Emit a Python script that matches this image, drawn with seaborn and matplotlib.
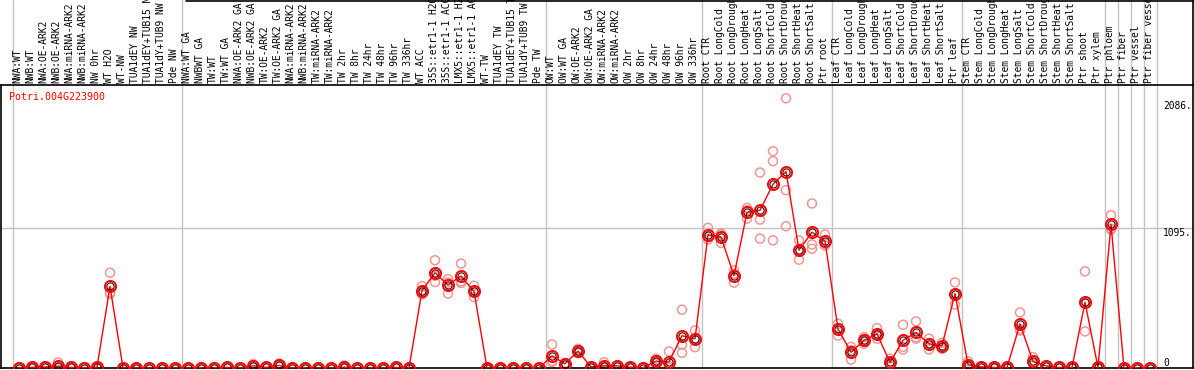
import numpy as np
import pandas as pd
import matplotlib
matplotlib.use("Agg")
import matplotlib.pyplot as plt
import seaborn as sns
from matplotlib.transforms import blended_transform_factory
from matplotlib.lines import Line2D

gene_id = "Potri.004G223900"

grp_nw = ["NWA:WT", "NWB:WT", "NWA:OE-ARK2", "NWB:OE-ARK2", "NWA:miRNA-ARK2",
          "NWB:miRNA-ARK2", "NW 0hr", "WT H2O", "WT-NW", "TUA1dEY NW",
          "TUA1dEY+TUB15 NW", "TUA1dY+TUB9 NW", "Pde NW"]
grp_tw = ["NWA:WT GA", "NWBWT GA", "TW:WT", "TW:WT GA", "NWA:OE-ARK2 GA",
          "NWB:OE-ARK2 GA", "TW:OE-ARK2", "TW:OE-ARK2 GA", "NWA:miRNA-ARK2",
          "NWB:miRNA-ARK2", "TW:miRNA-ARK2", "TW:miRNA-ARK2", "TW 2hr", "TW 8hr",
          "TW 24hr", "TW 48hr", "TW 96hr", "TW 336hr", "WT ACC", "35S::etr1-1 H2O",
          "35S::etr1-1 ACC", "LMX5::etr1-1 H2O", "LMX5::etr1-1 ACC", "WT-TW",
          "TUA1dEY TW", "TUA1dEY+TUB15 TW", "TUA1dY+TUB9 TW", "Pde TW"]
grp_ow = ["OW:WT", "OW:WT GA", "OW:OE-ARK2", "OW:OE-ARK2 GA", "OW:miRNA-ARK2",
          "OW:miRNA-ARK2", "OW 2hr", "OW 8hr", "OW 24hr", "OW 48hr", "OW 96hr", "OW 336hr"]
grp_root = ["Root CTR", "Root LongCold", "Root LongDrought", "Root LongHeat",
            "Root LongSalt", "Root ShortCold", "Root ShortDrought", "Root ShortHeat",
            "Root ShortSalt", "Ptr root"]
grp_leaf = ["Leaf CTR", "Leaf LongCold", "Leaf LongDrought", "Leaf LongHeat",
            "Leaf LongSalt", "Leaf ShortCold", "Leaf ShortDrought", "Leaf ShortHeat",
            "Leaf ShortSalt", "Ptr leaf"]
grp_stem = ["Stem CTR", "Stem LongCold", "Stem LongDrought", "Stem LongHeat",
            "Stem LongSalt", "Stem ShortCold", "Stem ShortDrought", "Stem ShortHeat",
            "Stem ShortSalt", "Ptr shoot", "Ptr xylem"]
grp_phloem = ["Ptr phloem"]
grp_fiber = ["Ptr fiber"]
grp_vessel = ["Ptr vessel"]
grp_fv = ["Ptr fiber vessel"]

# replicate values (three per sample)
rep_nw = [(0, 5, 4), (3, 6, 6), (5, 10, 9), (43, 0, 0), (4, 4, 4), (2, 2, 2), (10, 4, 4),
          (745, 590, 580), (0, 0, 0), (0, 0, 0), (0, 0, 0), (0, 0, 0), (0, 0, 0)]
rep_tw = [(0, 0, 0), (0, 0, 0), (0, 0, 0), (5, 5, 5), (0, 0, 0), (30, 12, 10), (5, 5, 5),
          (35, 14, 12), (0, 0, 0), (0, 0, 0), (0, 0, 0), (0, 0, 0), (20, 0, 0), (0, 0, 0),
          (0, 0, 0), (0, 0, 0), (5, 5, 5), (0, 0, 0), (640, 600, 575), (842, 672, 721),
          (695, 581, 668), (816, 677, 664), (643, 554, 600), (0, 0, 0), (0, 0, 0),
          (0, 0, 0), (0, 0, 0), (0, 0, 0)]
rep_ow = [(184, 55, 46), (40, 30, 29), (150, 129, 116), (9, 9, 9), (45, 5, 2), (17, 17, 17),
          (7, 7, 7), (2, 2, 2), (72, 53, 35), (129, 14, 0), (456, 182, 119), (294, 163, 227)]
rep_root = [(1095, 1024, 1004), (1051, 977, 1044), (763, 667, 737), (1251, 1168, 1233),
            (1528, 1160, 1011), (1695, 1617, 998), (2108, 1390, 1108), (998, 847, 918),
            (1286, 966, 932), (1043, 972, 958)]
rep_leaf = [(346, 254, 310), (165, 66, 140), (241, 189, 215), (312, 229, 260), (74, 22, 33),
            (338, 165, 145), (364, 241, 229), (229, 145, 193), (197, 150, 172), (669, 497, 580)]
rep_stem = [(51, 9, 21), (9, 9, 9), (4, 4, 4), (4, 4, 4), (434, 293, 306), (85, 33, 35),
            (17, 17, 17), (4, 4, 4), (4, 4, 4), (755, 286, 502), (4, 4, 4)]
rep_phloem = [(1194, 1090, 1082)]
rep_fiber = [(0, 0, 0)]
rep_vessel = [(0, 0, 0)]
rep_fv = [(0, 0, 0)]

ytick_vals = [0, 1095, 2086]
ytick_labels = ["0", "1095.", "2086."]

groups = [grp_nw, grp_tw, grp_ow, grp_root, grp_leaf, grp_stem,
          grp_phloem, grp_fiber, grp_vessel, grp_fv]
reps = [rep_nw, rep_tw, rep_ow, rep_root, rep_leaf, rep_stem,
        rep_phloem, rep_fiber, rep_vessel, rep_fv]

categories = [c for g in groups for c in g]
all_reps = [r for g in reps for r in g]
rows = []
for i, (cat, r) in enumerate(zip(categories, all_reps)):
    for v in r:
        rows.append({"pos": i, "sample": cat, "value": v})
df = pd.DataFrame(rows)

sns.set_style("white")
plt.rcParams["font.family"] = ["DejaVu Sans Mono", "DejaVu Sans"]

W, H = 1194, 370
fig = plt.figure(figsize=(W / 100, H / 100), dpi=100)
ax_left, ax_right, ax_top, ax_bot = 1, 1193, 85, 368
ax = fig.add_axes([ax_left / W, (H - ax_bot) / H, (ax_right - ax_left) / W, (ax_bot - ax_top) / H])

px = 13.0  # px per sample
x0 = 19.0
ax.set_xlim((ax_left - x0) / px, (ax_right - x0) / px)
ax.set_ylim(0, 2212)

gray = "#c3c3c3"
# group separators
bounds = [-0.5]
n = 0
for g in groups:
    n += len(g)
    bounds.append(n - 0.5)
ymax_ext = ax_bot / (ax_bot - ax_top)
for b in bounds:
    ax.axvline(b, ymin=0, ymax=ymax_ext, color=gray, lw=1.0, clip_on=False, zorder=0)
ax.axhline(1095, color=gray, lw=1.0, zorder=0)

# replicates
sns.scatterplot(data=df, x="pos", y="value", ax=ax, marker="o", s=42,
                facecolor="none", edgecolor="#ec9898", linewidth=1.1, zorder=2)
# means
sns.lineplot(data=df, x="pos", y="value", ax=ax, estimator="mean", errorbar=None,
             color="#ff0000", lw=1.0, marker="o", markersize=8,
             markerfacecolor="none", markeredgecolor="#ff0000", markeredgewidth=1.4, zorder=3)
sns.lineplot(data=df, x="pos", y="value", ax=ax, estimator="mean", errorbar=None,
             color="black", lw=0, marker="o", markersize=5.2,
             markerfacecolor="none", markeredgecolor="#3a0000", markeredgewidth=0.8, zorder=4)

ax.set_xticks([])
ax.set_yticks([])
ax.set_xlabel("")
ax.set_ylabel("")
for s in ax.spines.values():
    s.set_visible(True)
    s.set_color("black")
    s.set_linewidth(1.2)

# header labels
trans = blended_transform_factory(ax.transData, ax.transAxes)
for i, lab in enumerate(categories):
    ax.text(i - 0.1, 1.0 + 2.5 / (ax_bot - ax_top), lab, transform=trans, rotation=90,
            ha="center", va="bottom", fontsize=6.9, color="black", clip_on=False)

# gene id
ax.text((9 - ax_left) / (ax_right - ax_left), (ax_bot - 97) / (ax_bot - ax_top), gene_id,
        transform=ax.transAxes, ha="left", va="center", fontsize=7.2, color="#ff0000")

# value labels on the right
ttrans = blended_transform_factory(ax.transAxes, ax.transData)
for v, lab in zip(ytick_vals, ytick_labels):
    ax.text((1163 - ax_left) / (ax_right - ax_left), v, lab, transform=ttrans,
            ha="left", va="bottom" if v == 0 else "top", fontsize=6.9, color="black")

# header border
fig.add_artist(Line2D([ax_right / W, ax_right / W], [(H - ax_top) / H, 1.0],
                      color="black", lw=1.2))
fig.add_artist(Line2D([186 / W, ax_right / W], [1 - 0.5 / H, 1 - 0.5 / H],
                      color="black", lw=1.2))

fig.savefig("out.png", dpi=100)
